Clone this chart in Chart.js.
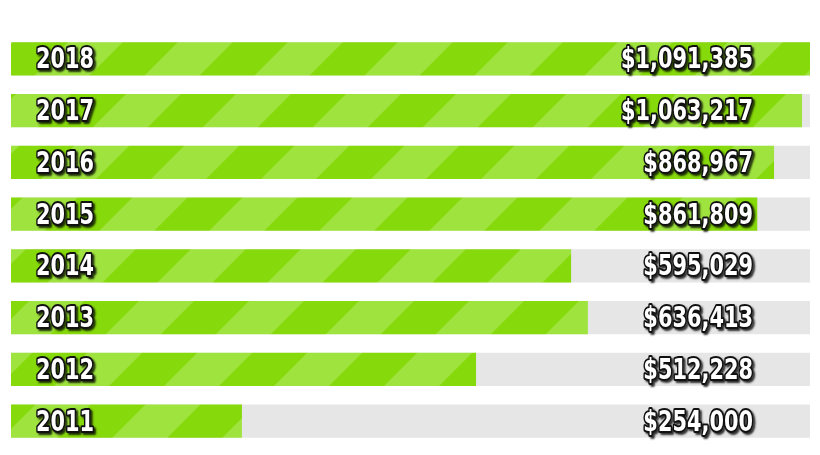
<!DOCTYPE html>
<html><head><meta charset="utf-8">
<script src="https://cdn.jsdelivr.net/npm/chart.js@4"></script>
<style>html,body{margin:0;padding:0;background:#fff}#wrap{width:820px;height:455px}</style>
</head><body><div id="wrap"><canvas id="c"></canvas></div>
<script>
const years = ["2018","2017","2016","2015","2014","2013","2012","2011"];
const valueLabels = ["$1,091,385","$1,063,217","$868,967","$861,809","$595,029","$636,413","$512,228","$254,000"];
const barLengths = [100, 99, 95.5, 93.4, 70.1, 72.2, 58.2, 28.9];
const trackLengths = [100, 100, 100, 100, 100, 100, 100, 100];

function stripePattern(){
  const p=document.createElement('canvas');p.width=110;p.height=110;
  const g=p.getContext('2d');
  g.fillStyle='#86d90a';g.fillRect(0,0,110,110);
  g.fillStyle='#9fe43e';
  for(let k=-2;k<3;k++){
    g.beginPath();
    const o=k*110;
    g.moveTo(o,110);g.lineTo(o+55,110);g.lineTo(o+165,0);g.lineTo(o+110,0);g.closePath();g.fill();
  }
  return g.createPattern(p,'repeat');
}
const labelPlugin={id:'lbl',afterDatasetsDraw(ch){
  const c=ch.ctx, meta=ch.getDatasetMeta(0);
  const sx=0.72;
  meta.data.forEach((b,i)=>{
    const y=b.y+2;
    [[36,'left',years[i]],[753,'right',valueLabels[i]]].forEach(([x,a,t])=>{
      c.save();
      c.translate(x,y);c.scale(sx,1);
      c.font='bold 29px "DejaVu Sans",sans-serif';
      c.textBaseline='middle';c.lineJoin='round';c.textAlign=a;
      c.shadowColor='rgba(0,0,0,0.8)';c.shadowOffsetX=2;c.shadowOffsetY=2;c.shadowBlur=2;
      c.strokeStyle='#111';c.lineWidth=4;c.strokeText(t,0,0);
      c.shadowColor='transparent';
      c.fillStyle='#fff';c.fillText(t,0,0);
      c.restore();
    });
  });
}};
new Chart(document.getElementById('c'),{
  type:'bar',
  data:{labels:years,datasets:[
    {data:barLengths,backgroundColor:stripePattern(),grouped:false,barPercentage:0.64,categoryPercentage:1},
    {data:trackLengths,backgroundColor:'#e6e6e6',grouped:false,barPercentage:0.64,categoryPercentage:1}
  ]},
  options:{indexAxis:'y',responsive:true,maintainAspectRatio:false,animation:false,
    layout:{padding:{left:11,right:10,top:33,bottom:8}},
    plugins:{legend:{display:false},tooltip:{enabled:false}},
    scales:{x:{display:false,min:0,max:100},y:{display:false}}},
  plugins:[labelPlugin]
});
</script></body></html>
